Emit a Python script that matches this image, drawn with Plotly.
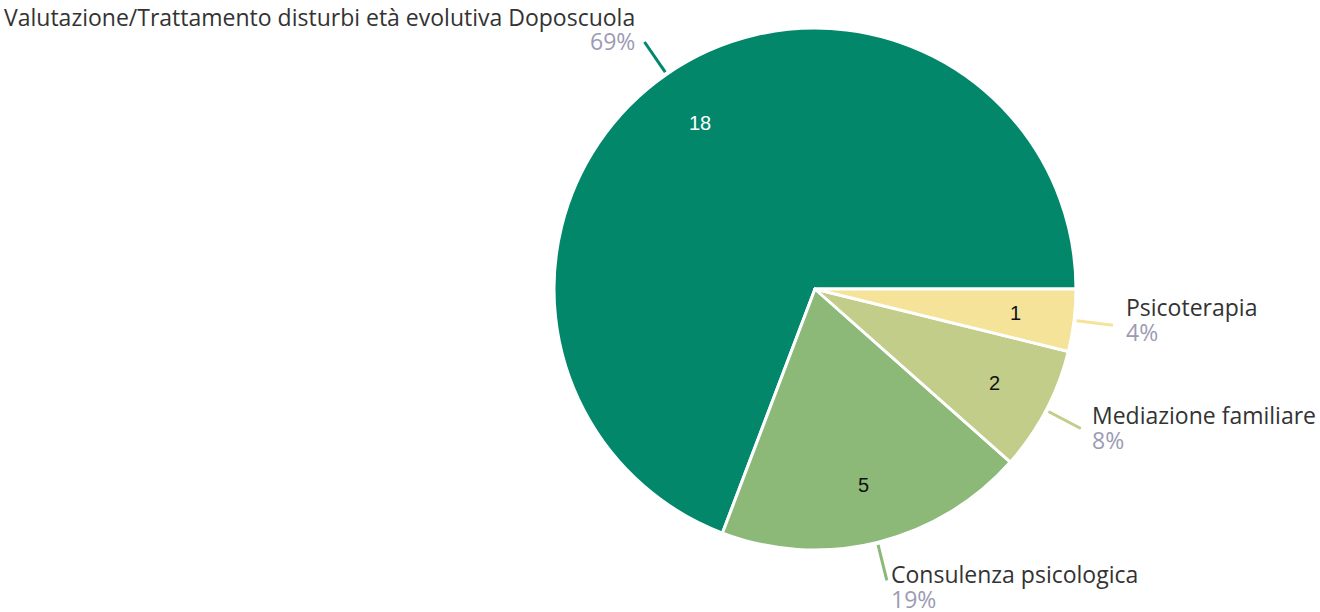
import math
import plotly.graph_objects as go

# ---- data ----
labels = ["Valutazione/Trattamento disturbi età evolutiva Doposcuola",
          "Consulenza psicologica", "Mediazione familiare", "Psicoterapia"]
values = [18, 5, 2, 1]

# ---- style ----
colors = ["#02876B", "#8CB878", "#C2CD89", "#F5E39A"]
value_font_colors = ["#FFFFFF", "#111111", "#111111", "#111111"]
W, H = 1320, 612
CX, CY, R = 815, 289, 261          # pie centre / radius in px
LINE_R0, LINE_R1, VALUE_R = 1.01, 1.15, 0.775
# per-label text offsets from connector end (px): dx, dy of first line
label_dx = [-8, 3, 10, 12]
label_dy = [-25, -6, -13, -18]
LINE_GAP = 24.5
FONT = "Open Sans, sans-serif"
VALUE_FONT = "Liberation Sans, Arial, sans-serif"
NAME_COLOR = "#333333"
PCT_COLOR = "#9B9BB4"

total = sum(values)

# counterclockwise, first slice starting at 3 o'clock
fig = go.Figure(go.Pie(
    labels=labels, values=values, sort=False,
    direction="counterclockwise", rotation=90 - 360 * values[0] / total,
    marker=dict(colors=colors, line=dict(color="white", width=3)),
    textinfo="none", hoverinfo="label+value+percent",
    showlegend=False,
    domain=dict(x=[(CX - R) / W, (CX + R) / W], y=[1 - (CY + R) / H, 1 - (CY - R) / H]),
))

def px2paper(x, y):
    return x / W, 1 - y / H

cum = 0
shapes, annotations = [], []
for i, (lab, v) in enumerate(zip(labels, values)):
    mid = (cum + v / 2) / total * 2 * math.pi
    cum += v
    c, s = math.cos(mid), -math.sin(mid)
    x0, y0 = CX + R * LINE_R0 * c, CY + R * LINE_R0 * s
    x1, y1 = CX + R * LINE_R1 * c, CY + R * LINE_R1 * s
    p0, p1 = px2paper(x0, y0), px2paper(x1, y1)
    shapes.append(dict(type="line", xref="paper", yref="paper",
                       x0=p0[0], y0=p0[1], x1=p1[0], y1=p1[1],
                       line=dict(color=colors[i], width=3)))
    right = c >= 0
    tx = x1 + label_dx[i]
    ty = y1 + label_dy[i]
    pct = f"{round(v / total * 100)}%"
    for j, (txt, col) in enumerate([(lab, NAME_COLOR), (pct, PCT_COLOR)]):
        px_, py_ = px2paper(tx, ty + j * LINE_GAP)
        annotations.append(dict(xref="paper", yref="paper", x=px_, y=py_,
                                text=txt, showarrow=False, borderpad=0,
                                xanchor="left" if right else "right", yanchor="middle",
                                font=dict(family=FONT, size=23, color=col)))
    vx, vy = px2paper(CX + R * VALUE_R * c, CY + R * VALUE_R * s)
    annotations.append(dict(xref="paper", yref="paper", x=vx, y=vy, text=str(v),
                            showarrow=False, xanchor="center", yanchor="middle",
                            font=dict(family=VALUE_FONT, size=20, color=value_font_colors[i])))

fig.update_layout(width=W, height=H, margin=dict(l=0, r=0, t=0, b=0),
                  paper_bgcolor="white", plot_bgcolor="white",
                  shapes=shapes, annotations=annotations)
fig.write_html("out.html", config={"displayModeBar": False},
               post_script="document.body.style.margin='0';")
